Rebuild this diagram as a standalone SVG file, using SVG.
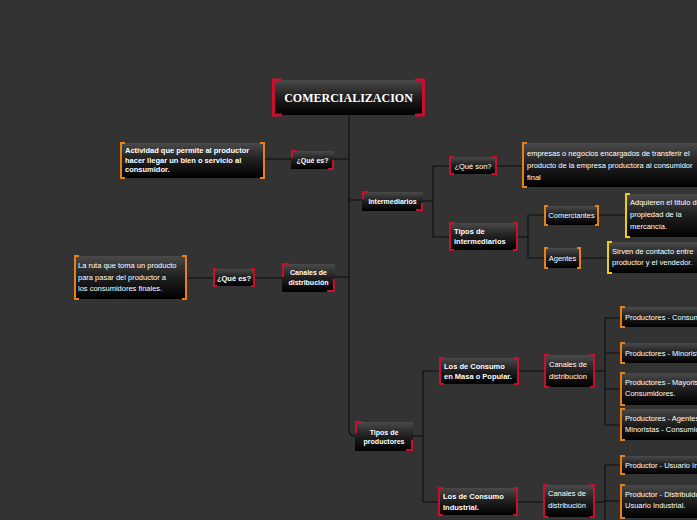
<svg xmlns="http://www.w3.org/2000/svg" width="697" height="520" viewBox="0 0 697 520">
<defs>
<linearGradient id="g" x1="0" y1="0" x2="0" y2="1">
<stop offset="0" stop-color="#4a4a4a"/>
<stop offset="0.45" stop-color="#222"/>
<stop offset="1" stop-color="#000"/>
</linearGradient>
<style>
.box{fill:url(#g)}
.r{fill:none;stroke:#c8102e;stroke-width:2}
.o{fill:none;stroke:#e8801a;stroke-width:2}
.y{fill:none;stroke:#f0d000;stroke-width:2}
.c{fill:none;stroke:#111;stroke-width:1.2}
text{font-family:"Liberation Sans","Open Sans",sans-serif;font-size:7.5px;fill:#fff}
.b{font-weight:bold}
.m{text-anchor:middle}
.root{font-family:"Liberation Serif","DejaVu Serif",serif;font-size:12px;font-weight:bold}
</style>
</defs>
<rect width="697" height="520" fill="#333"/>
<g id="connectors">
<path class="c" d="M349 115 V430 Q349 436 355 436"/>
<path class="c" d="M334 159 H349"/>
<path class="c" d="M349 200 H362"/>
<path class="c" d="M334 277 H349"/>
<path class="c" d="M265 159 H291"/>
<path class="c" d="M187 278 H213"/>
<path class="c" d="M255 278 H282"/>
<path class="c" d="M423 201 H433"/>
<path class="c" d="M449 166 H433 V237 H449"/>
<path class="c" d="M497 166 H522"/>
<path class="c" d="M518 237 H528"/>
<path class="c" d="M544 215 H528 V258 H544"/>
<path class="c" d="M599 215 H625"/>
<path class="c" d="M581 258 H607"/>
<path class="c" d="M413 436 H423"/>
<path class="c" d="M439 371 H423 V502 H438"/>
<path class="c" d="M519 371 H544"/>
<path class="c" d="M595 371 H605"/>
<path class="c" d="M620 318 H605 V425 H620"/>
<path class="c" d="M605 353 H620 M605 389 H620"/>
<path class="c" d="M518 502 H543"/>
<path class="c" d="M595 502 H605"/>
<path class="c" d="M620 465 H605 V520"/>
<path class="c" d="M605 501 H620"/>
</g>
<g id="root">
<rect class="box" x="274" y="80" width="150" height="35"/>
<path class="r" style="stroke-width:3" d="M282 80 H273.5 V115 H282 M415 80 H423.5 V115 H415"/>
<text class="root m" x="348.5" y="102">COMERCIALIZACION</text>
</g>
<g id="que-es-1">
<rect class="box" x="291" y="151" width="43" height="18"/>
<path class="r" d="M297 151 H292 V158 M328 169 H333 V160"/>
<text class="b m" x="312.5" y="163" style="font-size:7px">¿Qué es?</text>
</g>
<g id="actividad">
<rect class="box" x="121" y="143" width="144" height="35"/>
<path class="o" d="M125 143 H121 V178 H125 M260 143 H264 V178 H260"/>
<text class="b" x="125" y="153">Actividad que permite al productor</text>
<text class="b" x="125" y="162.5">hacer llegar un bien o servicio al</text>
<text class="b" x="125" y="172">consumidor.</text>
</g>
<g id="canales-izq">
<rect class="box" x="282" y="264" width="53" height="28"/>
<path class="r" d="M289 264 H283 V277 M327 291 H334 V279"/>
<text class="b m" x="308.5" y="275" style="font-size:7px">Canales de</text>
<text class="b m" x="308.5" y="285" style="font-size:7px">distribución</text>
</g>
<g id="que-es-2">
<rect class="box" x="213" y="269" width="42" height="17"/>
<path class="r" d="M217 269 H214 V286 H217 M251 269 H254 V286 H251"/>
<text class="b m" x="234" y="281">¿Qué es?</text>
</g>
<g id="la-ruta">
<rect class="box" x="74" y="256" width="113" height="43"/>
<path class="o" d="M79 256 H75 V299 H79 M182 256 H186 V299 H182"/>
<text x="78" y="268">La ruta que toma un producto</text>
<text x="78" y="279.5">para pasar del productor a</text>
<text x="78" y="291">los consumidores finales.</text>
</g>
<g id="intermediarios">
<rect class="box" x="362" y="192" width="61" height="19"/>
<path class="r" d="M368 192 H363 V199 M416 210 H422 V203"/>
<text class="b m" x="392.5" y="204" style="font-size:7px">Intermediarios</text>
</g>
<g id="que-son">
<rect class="box" x="449" y="157" width="48" height="17"/>
<path class="r" d="M454 157 H450 V174 H454 M492 157 H496 V174 H492"/>
<text class="m" x="473" y="168.5">¿Qué son?</text>
</g>
<g id="empresas">
<rect class="box" x="522" y="143" width="200" height="44"/>
<path class="o" d="M527 143 H523 V187 H527"/>
<text x="527" y="156">empresas o negocios encargados de transferir el</text>
<text x="527" y="168">producto de la empresa productora al consumidor</text>
<text x="527" y="179.5">final</text>
</g>
<g id="tipos-intermediarios">
<rect class="box" x="449" y="223" width="69" height="27"/>
<path class="r" d="M454 223 H450 V250 H454 M513 223 H517 V250 H513"/>
<text class="b" x="454" y="234">Tipos de</text>
<text class="b" x="454" y="244">intermediarios</text>
</g>
<g id="comerciantes">
<rect class="box" x="544" y="206" width="55" height="19"/>
<path class="o" d="M548 206 H545 V225 H548 M595 206 H598 V225 H595"/>
<text class="m" x="571.5" y="218">Comerciantes</text>
</g>
<g id="agentes">
<rect class="box" x="544" y="248" width="37" height="20"/>
<path class="o" d="M548 248 H545 V268 H548 M577 248 H580 V268 H577"/>
<text class="m" x="562.5" y="261">Agentes</text>
</g>
<g id="adquieren">
<rect class="box" x="625" y="194" width="90" height="43"/>
<path class="y" d="M630 194 H626 V237 H630"/>
<text x="630" y="205">Adquieren el título de</text>
<text x="630" y="217">propiedad de la</text>
<text x="630" y="229">mercancía.</text>
</g>
<g id="sirven">
<rect class="box" x="607" y="242" width="100" height="31"/>
<path class="y" d="M612 242 H608 V273 H612"/>
<text x="612" y="254">Sirven de contacto entre</text>
<text x="612" y="265">productor y el vendedor.</text>
</g>
<g id="tipos-productores">
<rect class="box" x="355" y="422" width="58" height="29"/>
<path class="r" d="M362 422 H356 V433 M406 450 H412 V440"/>
<text class="b m" x="384" y="435" style="font-size:7px">Tipos de</text>
<text class="b m" x="384" y="444" style="font-size:7px">productores</text>
</g>
<g id="consumo-masa">
<rect class="box" x="439" y="358" width="80" height="26"/>
<path class="r" d="M444 358 H440 V384 H444 M514 358 H518 V384 H514"/>
<text class="b" x="444" y="369">Los de Consumo</text>
<text class="b" x="444" y="379">en Masa o Popular.</text>
</g>
<g id="canales-masa">
<rect class="box" x="544" y="355" width="51" height="32"/>
<path class="r" d="M549 355 H545 V387 H549 M590 355 H594 V387 H590"/>
<text x="549" y="367">Canales de</text>
<text x="549" y="379">distribucion</text>
</g>
<g id="p1">
<rect class="box" x="620" y="307" width="100" height="20"/>
<path class="o" d="M625 307 H621 V327 H625"/>
<text x="625" y="320">Productores - Consumidores.</text>
</g>
<g id="p2">
<rect class="box" x="620" y="343" width="100" height="20"/>
<path class="o" d="M625 343 H621 V363 H625"/>
<text x="625" y="356">Productores - Minoristas - Consumidores.</text>
</g>
<g id="p3">
<rect class="box" x="620" y="373" width="100" height="32"/>
<path class="o" d="M625 373 H621 V405 H625"/>
<text x="625" y="385">Productores - Mayoristas - Minoristas -</text>
<text x="625" y="396">Consumidores.</text>
</g>
<g id="p4">
<rect class="box" x="620" y="409" width="100" height="31"/>
<path class="o" d="M625 409 H621 V440 H625"/>
<text x="625" y="421">Productores - Agentes - Mayoristas -</text>
<text x="625" y="432">Minoristas - Consumidores.</text>
</g>
<g id="consumo-industrial">
<rect class="box" x="438" y="488" width="80" height="27"/>
<path class="r" d="M443 488 H439 V515 H443 M513 488 H517 V515 H513"/>
<text class="b" x="443" y="499">Los de Consumo</text>
<text class="b" x="443" y="509.5">Industrial.</text>
</g>
<g id="canales-industrial">
<rect class="box" x="543" y="485" width="52" height="32"/>
<path class="r" d="M548 485 H544 V517 H548 M590 485 H594 V517 H590"/>
<text x="548" y="496">Canales de</text>
<text x="548" y="508">distribución</text>
</g>
<g id="p5">
<rect class="box" x="620" y="456" width="100" height="18"/>
<path class="o" d="M625 456 H621 V474 H625"/>
<text x="625" y="468">Productor - Usuario Industrial.</text>
</g>
<g id="p6">
<rect class="box" x="620" y="485" width="100" height="33"/>
<path class="o" d="M625 485 H621 V518 H625"/>
<text x="625" y="497">Productor - Distribuidor Industrial -</text>
<text x="625" y="508">Usuario Industrial.</text>
</g>
</svg>
